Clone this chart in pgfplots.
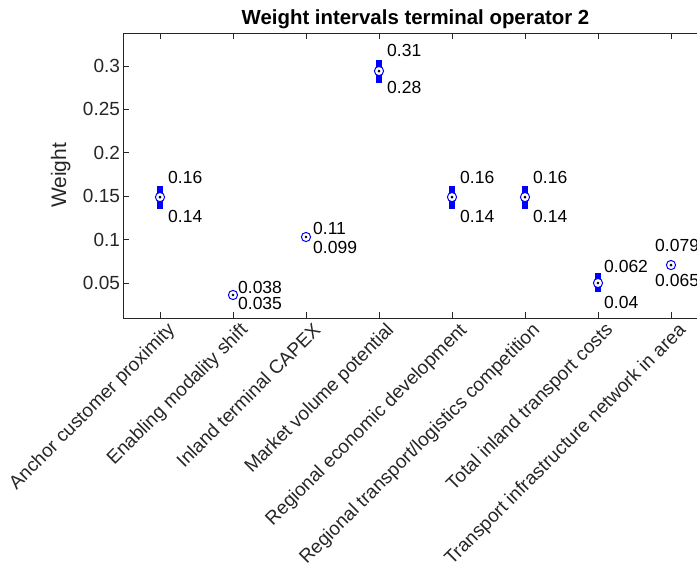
\documentclass[border=0pt]{standalone}
\usepackage{fontspec}
\setmainfont{Liberation Sans}
\usepackage{pgfplots}
\pgfplotsset{compat=1.18}
\usepackage{pgfplotstable}
\definecolor{axgray}{rgb}{0.15,0.15,0.15}
\definecolor{mblue}{rgb}{0,0,1}

\pgfplotstableread{
x y ylo yhi
1 0.1490 0.1353 0.1620
2 0.0362 0.0350 0.0380
3 0.1030 0.0990 0.1080
4 0.2942 0.2804 0.3069
5 0.1490 0.1353 0.1620
6 0.1490 0.1353 0.1620
7 0.0500 0.0396 0.0615
8 0.0707 0.0667 0.0747
}\pts

\pgfplotstableread{
x y t
1.110 0.1710 0.16
1.110 0.1272 0.14
2.068 0.0454 0.038
2.068 0.0270 0.035
3.096 0.1134 0.11
3.096 0.0915 0.099
4.110 0.3184 0.31
4.110 0.2747 0.28
5.110 0.1710 0.16
5.110 0.1272 0.14
6.110 0.1710 0.16
6.110 0.1272 0.14
7.082 0.0696 0.062
7.082 0.0281 0.04
7.781 0.0938 0.079
7.781 0.0535 0.065
}\labs

\begin{document}
\begin{tikzpicture}
\useasboundingbox (-123.5bp,-250bp) rectangle (573.5bp,318bp);
\clip (-123.5bp,-250bp) rectangle (573.5bp,318bp);
\begin{axis}[
  at={(0,0)}, anchor=south west,
  width=584bp, height=285bp, scale only axis,
  xmin=0.5, xmax=8.5, ymin=0.0097, ymax=0.338,
  clip=false,
  axis line style={axgray, line width=0.6bp},
  tick style={axgray, line width=0.6bp},
  tick align=inside, tick pos=both,
  major tick length=6bp,
  xtick={1,...,8},
  xticklabels={Anchor customer proximity, Enabling modality shift, Inland terminal CAPEX, Market volume potential, Regional economic development, Regional transport/logistics competition, Total inland transport costs, Transport infrastructure network in area},
  xticklabel style={xshift=6bp, yshift=1.5bp, rotate=45, anchor=north east, font=\fontsize{19bp}{22bp}\selectfont, text=axgray},
  ytick={0.05,0.1,0.15,0.2,0.25,0.3},
  yticklabels={0.05,0.1,0.15,0.2,0.25,0.3},
  yticklabel style={font=\fontsize{19bp}{22bp}\selectfont, text=axgray},
  ylabel={Weight},
  every axis y label/.style={at={(axis description cs:-0.1075,0.5)}, rotate=90, anchor=center, font=\fontsize{21bp}{24bp}\selectfont, text=axgray},
  title={\textbf{Weight intervals terminal operator 2}},
  every axis title/.style={at={(axis description cs:0.5,1)}, anchor=base, yshift=8.5bp, font=\fontsize{20.4bp}{24bp}\selectfont},
]
\addplot[draw=none, mark=none, error bars/.cd, y dir=both, y explicit,
  error mark=none, error bar style={line width=6bp, mblue}]
  table[x=x, y=y, y error plus expr=\thisrow{yhi}-\thisrow{y}, y error minus expr=\thisrow{y}-\thisrow{ylo}] {\pts};
\addplot[only marks, mark=*, mark size=4.6bp, mark options={draw=mblue, fill=white, line width=1bp}] table[x=x, y=y] {\pts};
\addplot[only marks, mark=*, mark size=1.2bp, mark options={draw=black, fill=black}] table[x=x, y=y] {\pts};
\addplot[only marks, mark=none, nodes near coords, point meta=explicit symbolic,
  nodes near coords style={anchor=west, inner sep=0pt, font=\fontsize{17.5bp}{20bp}\selectfont, text=black}]
  table[x=x, y=y, meta=t] {\labs};
\end{axis}
\end{tikzpicture}
\end{document}
